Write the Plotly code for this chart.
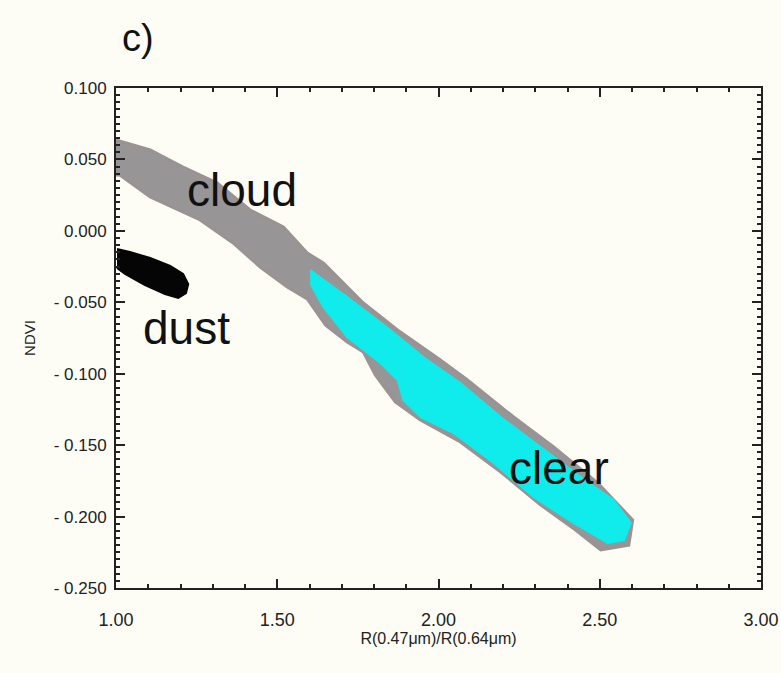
import plotly.graph_objects as go

# Region outlines (x = R(0.47)/R(0.64), y = NDVI)
cloud_x = [1.000, 1.106, 1.208, 1.314, 1.416, 1.519, 1.593, 1.643, 1.767, 1.873, 2.006, 2.090,
           2.233, 2.357, 2.494, 2.602, 2.590, 2.503, 2.425, 2.317, 2.193, 2.068, 1.944, 1.866,
           1.804, 1.767, 1.717, 1.650, 1.593, 1.531, 1.447, 1.363, 1.261, 1.106, 1.012, 1.000]
cloud_y = [0.0636, 0.0566, 0.0447, 0.0335, 0.0146, 0.0027, -0.0155, -0.0225, -0.0505, -0.0694,
           -0.0904, -0.1044, -0.1303, -0.1513, -0.1765, -0.2024, -0.2200, -0.2234, -0.2094,
           -0.1919, -0.1688, -0.1478, -0.1324, -0.1198, -0.1009, -0.0848, -0.0778, -0.0660,
           -0.0477, -0.0393, -0.0253, -0.0085, 0.0076, 0.0237, 0.0391, 0.0391]

clear_x = [1.602, 1.717, 1.851, 1.953, 2.068, 2.193, 2.317, 2.441, 2.543, 2.596, 2.575, 2.525,
           2.419, 2.295, 2.171, 2.047, 1.944, 1.891, 1.873, 1.820, 1.717, 1.643, 1.602]
clear_y = [-0.0274, -0.0463, -0.0694, -0.0883, -0.1065, -0.1303, -0.1513, -0.1723, -0.1884,
           -0.2045, -0.2164, -0.2185, -0.2045, -0.1863, -0.1625, -0.1415, -0.1303, -0.1184,
           -0.1044, -0.0925, -0.0743, -0.0533, -0.0365]

dust_x = [1.003, 1.043, 1.106, 1.168, 1.208, 1.224, 1.217, 1.193, 1.152, 1.090, 1.028, 1.003]
dust_y = [-0.0127, -0.0148, -0.0190, -0.0246, -0.0302, -0.0372, -0.0435, -0.0470, -0.0442,
          -0.0379, -0.0302, -0.0260]

label_text = ["cloud", "dust", "clear"]
label_x = [1.391, 1.220, 2.373]
label_y = [0.0286, -0.068, -0.166]

x_ticks = [1.0, 1.5, 2.0, 2.5, 3.0]
x_ticklabels = ["1.00", "1.50", "2.00", "2.50", "3.00"]
y_ticks = [0.100, 0.050, 0.000, -0.050, -0.100, -0.150, -0.200, -0.250]
y_ticklabels = ["0.100", "0.050", "0.000", "- 0.050", "- 0.100", "- 0.150", "- 0.200", "- 0.250"]

BG = "#fdfdf6"
narrow = "Liberation Sans Narrow, Liberation Sans, Arial"

fig = go.Figure()
fig.add_trace(go.Scatter(x=cloud_x, y=cloud_y, mode="lines", fill="toself",
                         fillcolor="#979595", line=dict(color="#9a9293", width=3),
                         hoverinfo="skip", showlegend=False))
fig.add_trace(go.Scatter(x=clear_x, y=clear_y, mode="lines", fill="toself",
                         fillcolor="#10ebeb", line=dict(color="#10ebeb", width=2),
                         hoverinfo="skip", showlegend=False))
fig.add_trace(go.Scatter(x=dust_x, y=dust_y, mode="lines", fill="toself",
                         fillcolor="#050505", line=dict(color="#050505", width=2),
                         hoverinfo="skip", showlegend=False))

for t, xx, yy in zip(label_text, label_x, label_y):
    fig.add_annotation(x=xx, y=yy, text=t, showarrow=False, xanchor="center", yanchor="middle",
                       font=dict(family="Liberation Sans, Arial", size=46, color="#111"))

fig.add_annotation(xref="paper", yref="paper", x=0.034, y=1.100, text="c)", showarrow=False,
                   xanchor="center", yanchor="middle",
                   font=dict(family="Liberation Sans, Arial", size=38, color="#111"))

axis_common = dict(showgrid=False, zeroline=False, showline=True, linecolor="#222",
                   linewidth=2, mirror="allticks", ticks="inside", tickcolor="#222",
                   ticklen=9, tickwidth=1.5, automargin=False)

fig.update_xaxes(range=[1.0, 3.0], tickvals=x_ticks, ticktext=x_ticklabels,
                 tickfont=dict(family=narrow, size=18, color="#222"), ticklabelstandoff=14,
                 minor=dict(dtick=0.1, ticks="inside", ticklen=4, tickcolor="#222", tickwidth=1.5),
                 title=dict(text="R(0.47μm)/R(0.64μm)", standoff=3,
                            font=dict(family=narrow, size=16, color="#222")),
                 **axis_common)
fig.update_yaxes(range=[-0.25, 0.10], tickvals=y_ticks, ticktext=y_ticklabels,
                 tickfont=dict(family=narrow, size=17, color="#222"), ticklabelstandoff=4,
                 minor=dict(dtick=0.005, ticks="inside", ticklen=4, tickcolor="#222", tickwidth=1.5),
                 title=dict(text="NDVI", standoff=14,
                            font=dict(family=narrow, size=15, color="#222")),
                 **axis_common)

fig.update_layout(width=781, height=673, margin=dict(l=116, r=20, t=88, b=85, autoexpand=False),
                  paper_bgcolor=BG, plot_bgcolor=BG, showlegend=False)

fig.write_html("out.html", config={"displayModeBar": False},
               post_script="document.body.style.margin='0';document.body.style.overflow='hidden';"
                           "document.body.style.background='%s';" % BG)
